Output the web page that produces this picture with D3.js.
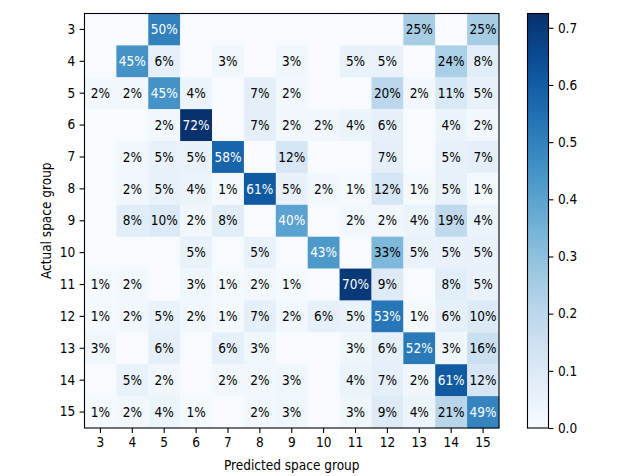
<!DOCTYPE html>
<html>
<head>
<meta charset="utf-8">
<script src="https://cdn.jsdelivr.net/npm/d3@7"></script>
<style>
  html, body { margin: 0; padding: 0; background: #fff; }
  svg text { font-family: "DejaVu Sans Condensed", "DejaVu Sans", sans-serif; font-stretch: condensed; }
</style>
</head>
<body>
<svg id="chart" width="640" height="476"></svg>
<script>
// space groups on both axes
const groups = [3, 4, 5, 6, 7, 8, 9, 10, 11, 12, 13, 14, 15];

// rows = actual group, columns = predicted group, in percent (0 = empty cell)
const row3  = [0, 0, 50, 0, 0, 0, 0, 0, 0, 0, 25, 0, 25];
const row4  = [0, 45, 6, 0, 3, 0, 3, 0, 5, 5, 0, 24, 8];
const row5  = [2, 2, 45, 4, 0, 7, 2, 0, 0, 20, 2, 11, 5];
const row6  = [0, 0, 2, 72, 0, 7, 2, 2, 4, 6, 0, 4, 2];
const row7  = [0, 2, 5, 5, 58, 0, 12, 0, 0, 7, 0, 5, 7];
const row8  = [0, 2, 5, 4, 1, 61, 5, 2, 1, 12, 1, 5, 1];
const row9  = [0, 8, 10, 2, 8, 0, 40, 0, 2, 2, 4, 19, 4];
const row10 = [0, 0, 0, 5, 0, 5, 0, 43, 0, 33, 5, 5, 5];
const row11 = [1, 2, 0, 3, 1, 2, 1, 0, 70, 9, 0, 8, 5];
const row12 = [1, 2, 5, 2, 1, 7, 2, 6, 5, 53, 1, 6, 10];
const row13 = [3, 0, 6, 0, 6, 3, 0, 0, 3, 6, 52, 3, 16];
const row14 = [0, 5, 2, 0, 2, 2, 3, 0, 4, 7, 2, 61, 12];
const row15 = [1, 2, 4, 1, 0, 2, 3, 0, 3, 9, 4, 21, 49];

const rows = [row3, row4, row5, row6, row7, row8, row9, row10, row11, row12, row13, row14, row15];

const colorMax = 0.725;
const colorTicks = [0.0, 0.1, 0.2, 0.3, 0.4, 0.5, 0.6, 0.7];

const margin = {top: 13.5, left: 84.5};
const size = 414.5;
const bar = {x: 527.5, width: 21};

const svg = d3.select('#chart');

const x = d3.scaleBand().domain(groups).range([margin.left, margin.left + size]);
const y = d3.scaleBand().domain(groups).range([margin.top, margin.top + size]);
const color = d3.scaleSequential(d3.interpolateBlues).domain([0, colorMax]);

let cells = [];
rows.forEach((r, i) => r.forEach((v, j) => {
    cells.push({actual: groups[i], predicted: groups[j], value: v / 100});
}));

svg.append('g').selectAll('rect')
    .data(cells)
    .join('rect')
    .attr('x', d => x(d.predicted))
    .attr('y', d => y(d.actual))
    .attr('width', x.bandwidth() + 0.3)
    .attr('height', y.bandwidth() + 0.3)
    .attr('fill', d => color(d.value));

svg.append('g').selectAll('text')
    .data(cells.filter(d => d.value > 0))
    .join('text')
    .attr('x', d => x(d.predicted) + x.bandwidth() / 2)
    .attr('y', d => y(d.actual) + y.bandwidth() / 2)
    .attr('text-anchor', 'middle')
    .attr('dy', '0.35em')
    .attr('font-size', 13.5)
    .attr('fill', d => d.value > colorMax / 2 ? '#fff' : '#000')
    .text(d => Math.round(d.value * 100) + '%');

svg.append('rect')
    .attr('x', margin.left).attr('y', margin.top)
    .attr('width', size).attr('height', size)
    .attr('fill', 'none').attr('stroke', '#000').attr('stroke-width', 1.1);

function styleAxis(g) {
    g.select('.domain').remove();
    g.selectAll('.tick line').attr('stroke', '#000').attr('stroke-width', 1.1);
    g.selectAll('.tick text').attr('font-size', 13.5).attr('fill', '#000')
        .attr('font-family', '"DejaVu Sans Condensed", "DejaVu Sans", sans-serif');
}

svg.append('g')
    .attr('transform', `translate(0,${margin.top + size})`)
    .call(d3.axisBottom(x).tickSize(4.9).tickPadding(4.5))
    .call(styleAxis);

svg.append('g')
    .attr('transform', `translate(${margin.left},0)`)
    .call(d3.axisLeft(y).tickSize(4.9).tickPadding(4.5))
    .call(styleAxis);

svg.append('text')
    .attr('x', margin.left + size / 2)
    .attr('y', 470)
    .attr('text-anchor', 'middle')
    .attr('font-size', 13.5)
    .text('Predicted space group');

svg.append('text')
    .attr('transform', `translate(51,${margin.top + size / 2}) rotate(-90)`)
    .attr('text-anchor', 'middle')
    .attr('font-size', 13.5)
    .text('Actual space group');

// colorbar
const cy = d3.scaleLinear().domain([0, colorMax]).range([margin.top + size, margin.top]);

const grad = svg.append('defs').append('linearGradient')
    .attr('id', 'blues')
    .attr('x1', 0).attr('y1', 1).attr('x2', 0).attr('y2', 0);
grad.selectAll('stop')
    .data(d3.range(0, 1.0001, 0.05))
    .join('stop')
    .attr('offset', d => d)
    .attr('stop-color', d => color(d * colorMax));

svg.append('rect')
    .attr('x', bar.x).attr('y', margin.top)
    .attr('width', bar.width).attr('height', size)
    .attr('fill', 'url(#blues)')
    .attr('stroke', '#000').attr('stroke-width', 1.1);

svg.append('g')
    .attr('transform', `translate(${bar.x + bar.width},0)`)
    .call(d3.axisRight(cy).tickValues(colorTicks).tickFormat(d3.format('.1f')).tickSize(4.9).tickPadding(4.5))
    .call(styleAxis);
</script>
</body>
</html>
